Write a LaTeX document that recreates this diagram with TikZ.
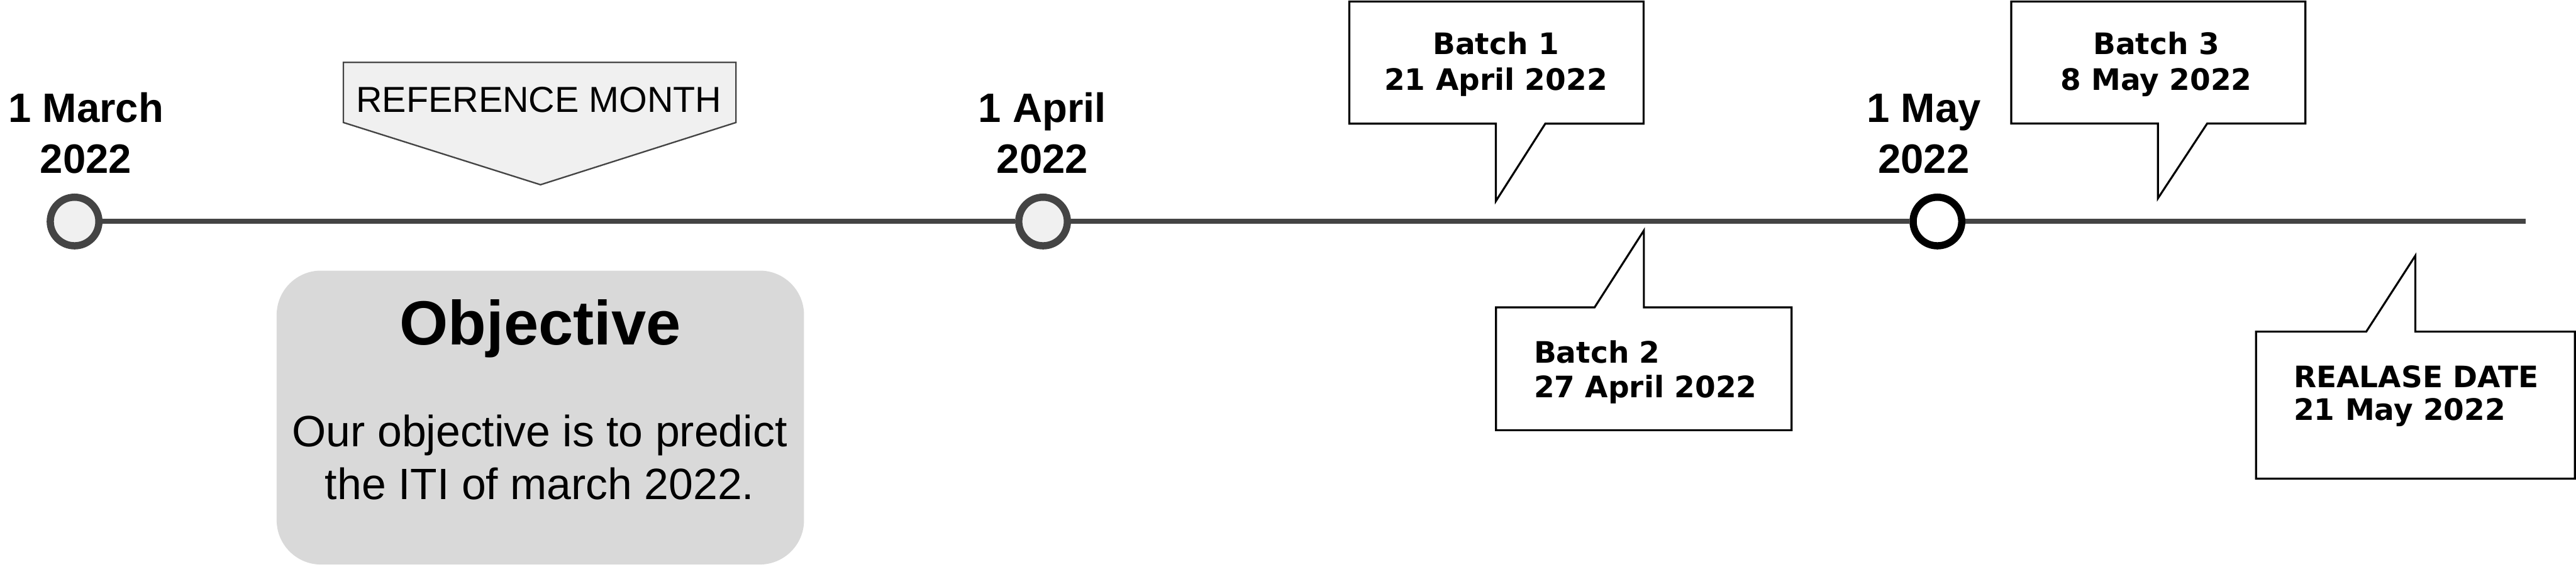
\documentclass[tikz,border=0pt]{standalone}
\usepackage{fontspec}
\setmainfont{Liberation Sans}
\newfontfamily\callfont{DejaVu Sans}
\definecolor{lineg}{HTML}{444444}
\definecolor{lightf}{HTML}{F0F0F0}
\definecolor{objgray}{HTML}{D9D9D9}
\begin{document}
\begin{tikzpicture}[x=1pt,y=-1pt,
  datelbl/.style={font=\fontsize{25}{31}\selectfont\bfseries, align=center, inner sep=0pt, anchor=base},
  milestone/.style={circle, draw=lineg, fill=lightf, line width=4.4pt, minimum size=29.6pt, inner sep=0pt},
  current/.style={milestone, draw=black, fill=white},
  callout/.style={draw=black, line width=1.2pt, fill=white, line join=miter},
  calltext/.style={font=\callfont\fontsize{18}{22}\selectfont\bfseries, inner sep=0pt, anchor=base},
  banner/.style={draw=lineg, fill=lightf, line width=0.9pt},
]
\useasboundingbox (0,0) rectangle (1568,348);

% reference month banner
\draw[banner] (209,38) -- (448,38) -- (448,74.6) -- (329,112.5) -- (209,74.6) -- cycle;
\node (refm) [font=\fontsize{22}{26}\selectfont, inner sep=0pt, anchor=base] at (328,68.3) {REFERENCE MONTH};

% objective box
\node (objbox) [fill=objgray, rounded corners=27pt, minimum width=321pt, minimum height=179pt, inner sep=0pt] at (328.9,254.3) {};
\node (objt) [font=\fontsize{38}{44}\selectfont\bfseries, inner sep=0pt, anchor=base] at (328.9,210.1) {Objective};
\node (objb) [font=\fontsize{26.7}{32.3}\selectfont, align=center, inner sep=0pt, anchor=base] at (328.5,304.3) {Our objective is to predict\\the ITI of march 2022.};

% timeline
\node (m1) [milestone] at (45.4,134.9) {};
\node (m2) [milestone] at (634.9,134.9) {};
\node (m3) [current] at (1179.3,134.9) {};
\coordinate (tlend) at (1537.5,134.9);
\draw[lineg, line width=3.1pt] (m1) -- (m2) -- (m3) -- (tlend);

% date labels
\node (d1) [datelbl] at (52.3,105.6) {1 March\\2022};
\node (d2) [datelbl] at (634.5,105.6) {1 April\\2022};
\node (d3) [datelbl] at (1171,105.6) {1 May\\2022};

% callouts
\draw[callout] (821.3,0.9) -- (1000.4,0.9) -- (1000.4,75.3) -- (940.6,75.3) -- (910.5,122.5) -- (910.5,75.3) -- (821.3,75.3) -- cycle;
\node (b1) [calltext, align=center] at (910.5,55) {Batch 1\\21 April 2022};

\draw[callout] (910.6,187.2) -- (970.6,187.2) -- (1000.6,140.4) -- (1000.6,187.2) -- (1090.5,187.2) -- (1090.5,262) -- (910.6,262) -- cycle;
\node (b2) [calltext, font=\callfont\fontsize{18}{21}\selectfont\bfseries, align=left, anchor=base west] at (933.5,242) {Batch 2\\27 April 2022};

\draw[callout] (1224.2,0.9) -- (1403.3,0.9) -- (1403.3,75.2) -- (1343.5,75.2) -- (1313.5,120.8) -- (1313.5,75.2) -- (1224.2,75.2) -- cycle;
\node (b3) [calltext, align=center] at (1312.5,55) {Batch 3\\8 May 2022};

\draw[callout] (1373.2,202) -- (1440.3,202) -- (1470.2,155.7) -- (1470.2,202) -- (1567.3,202) -- (1567.3,291.5) -- (1373.2,291.5) -- cycle;
\node (rel) [calltext, font=\callfont\fontsize{18}{20}\selectfont\bfseries, align=left, anchor=base west] at (1396,256) {REALASE DATE\\21 May 2022};
\end{tikzpicture}
\end{document}
